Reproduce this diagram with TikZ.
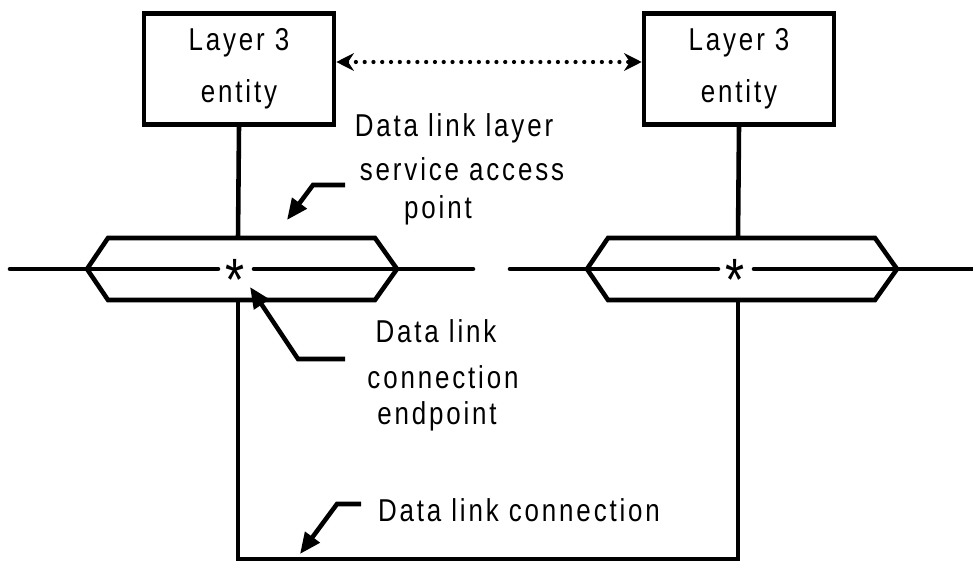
\documentclass[tikz,border=0pt]{standalone}
\usepackage{fontspec}
\setmainfont[LetterSpace=9,FakeStretch=0.82]{Liberation Sans}
\usetikzlibrary{arrows.meta}

\begin{document}
\begin{tikzpicture}[x=0.02cm,y=-0.02cm,
		wire/.style={line width=2.6pt},
		thinwire/.style={line width=2pt},
		entitybox/.style={draw,line width=2.6pt,minimum width=3.8cm,minimum height=2.22cm,align=center,inner sep=0pt,font=\fontsize{18}{29.5}\selectfont},
		lbl/.style={anchor=base,inner sep=0pt,font=\fontsize{18}{19}\selectfont},
		pointer/.style={line width=2.6pt,-{Triangle[length=12pt,width=10pt]}},
		peerlink/.style={line width=2.4pt,line cap=round,dash pattern=on 0pt off 5pt,{Stealth[length=10pt,width=10pt]}-{Stealth[length=10pt,width=10pt]}}]
		\useasboundingbox (0,0) rectangle (973,564);
		% the two layer 3 entities with their access points
		\foreach \s/\x in {L/238,R/738}{
			\node[entitybox] (l3\s) at (\x+1,69) {Layer 3\\entity};
			\coordinate (sap\s) at (\x,269);
			\coordinate (top\s) at (\x,238);
			\coordinate (bot\s) at (\x,300);
			\draw[wire,line join=miter] (sap\s) ++(-151,0) -- ++(21,-31) -- ++(267,0) -- ++(22,31)
				-- ++(-22,31) -- ++(-267,0) -- cycle;
			\draw[wire,line cap=round] (sap\s) ++(-228,0) -- ++(208,0);
			\draw[wire,line cap=round] (sap\s) ++(16,0) -- ++(219,0);
			\node[anchor=base,inner sep=0pt,font=\fontsize{34}{34}\selectfont] (star\s) at (\x-3,300) {*};
			\draw[wire] (l3\s.south) -- (top\s);
		}
		\draw[peerlink] ([yshift=0.14cm]l3L.east) -- ([yshift=0.14cm]l3R.west);
		% data link connection
		\draw[thinwire] (botL) -- ++(0,259) -| (botR);
		% labels
		\node[lbl] (sapA) at (454,137) {Data link layer};
		\node[lbl] (sapB) at (462,181) {service access};
		\node[lbl] (sapC) at (438,218) {point};
		\node[lbl] (cepA) at (436,342) {Data link};
		\node[lbl] (cepB) at (443,388) {connection};
		\node[lbl] (cepC) at (437,424) {endpoint};
		\node[lbl] (conn) at (519,521) {Data link connection};
		% pointers
		\coordinate (sapTail) at (345,185);
		\coordinate (sapTip) at (287,220);
		\coordinate (cepTail) at (345,359);
		\coordinate (cepTip) at (250,287);
		\coordinate (connTail) at (361,504);
		\coordinate (connTip) at (300,554);
		\draw[pointer] (sapTail) -- (313,185) -- (sapTip);
		\draw[pointer] (cepTail) -- (298,359) -- (cepTip);
		\draw[pointer] (connTail) -- (337,504) -- (connTip);
	\end{tikzpicture}
\end{document}
